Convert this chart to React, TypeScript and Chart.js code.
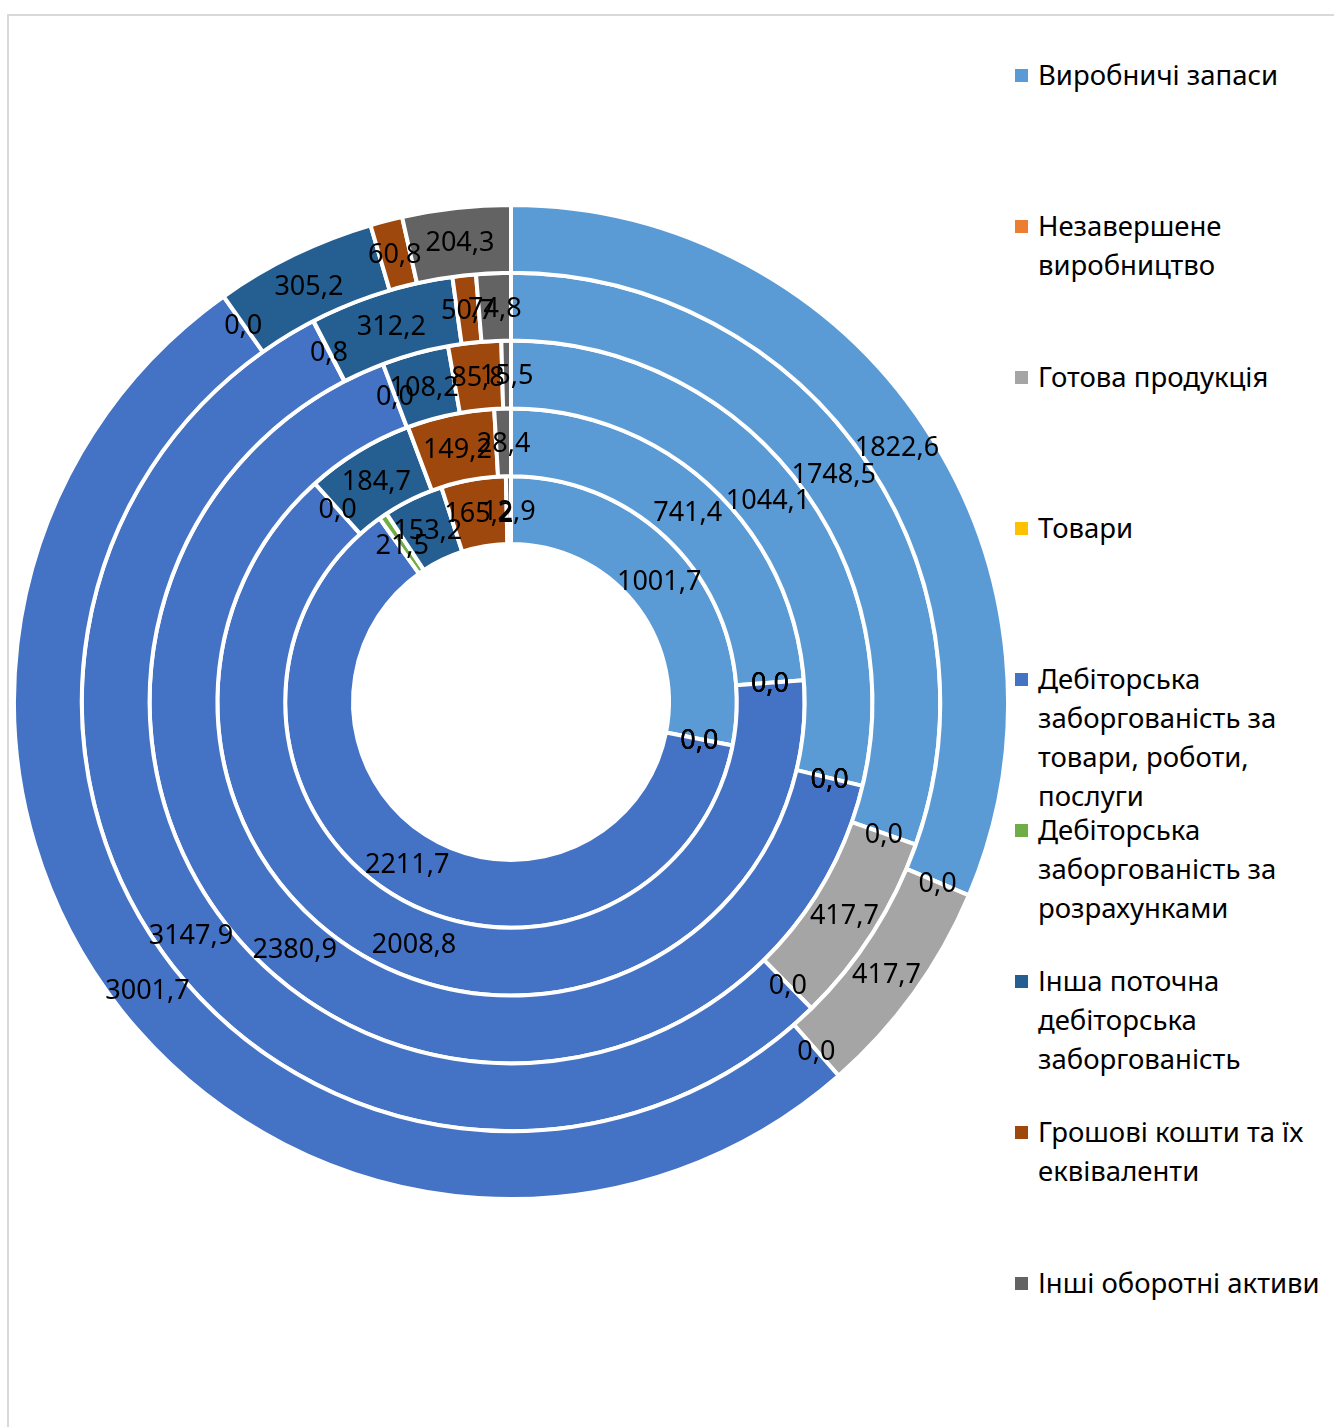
import React, { useEffect, useRef } from 'react';
import { Chart, registerables } from 'chart.js';

Chart.register(...registerables);

// Categories (legend order)
const categories = [
  'Виробничі запаси',
  'Незавершене\nвиробництво',
  'Готова продукція',
  'Товари',
  'Дебіторська\nзаборгованість за\nтовари, роботи,\nпослуги',
  'Дебіторська\nзаборгованість за\nрозрахунками',
  'Інша поточна\nдебіторська\nзаборгованість',
  'Грошові кошти та їх\nеквіваленти',
  'Інші оборотні активи',
];

const colors = ['#5B9BD5', '#ED7D31', '#A5A5A5', '#FFC000', '#4472C4', '#70AD47', '#255E91', '#9E480E', '#636363'];

// Rings from innermost (ring1) to outermost (ring5)
const ring1 = [1001.7, 0, 0, 0, 2211.7, 21.5, 153.2, 165.2, 12.9];
const ring2 = [741.4, 0, 0, 0, 2008.8, 0, 184.7, 149.2, 28.4];
const ring3 = [1044.1, 0, 0, 0, 2380.9, 0, 108.2, 85.8, 15.5];
const ring4 = [1748.5, 0, 417.7, 0, 3147.9, 0.8, 312.2, 50.7, 74.8];
const ring5 = [1822.6, 0, 417.7, 0, 3001.7, 0, 305.2, 60.8, 204.3];

const FONT = '"Noto Sans", "DejaVu Sans", sans-serif';

const labelPlugin = {
  id: 'ringLabels',
  afterDatasetsDraw(chart: any) {
    const ctx = chart.ctx;
    ctx.save();
    ctx.font = '27px ' + FONT;
    ctx.fillStyle = '#000';
    ctx.textAlign = 'center';
    ctx.textBaseline = 'middle';
    for (let di = chart.data.datasets.length - 1; di >= 0; di--) {
      const ds = chart.data.datasets[di];
      const meta = chart.getDatasetMeta(di);
      meta.data.forEach((arc: any, i: number) => {
        const p = arc.getProps(['x', 'y', 'startAngle', 'endAngle', 'innerRadius', 'outerRadius'], true);
        const a = (p.startAngle + p.endAngle) / 2;
        const r = (p.innerRadius + p.outerRadius) / 2;
        const v = ds.data[i] as number;
        ctx.fillText(v.toFixed(1).replace('.', ','), p.x + Math.cos(a) * r, p.y + Math.sin(a) * r + 2);
      });
    }
    ctx.restore();
  },
};

export default function App() {
  const canvasRef = useRef<HTMLCanvasElement | null>(null);

  useEffect(() => {
    if (!canvasRef.current) return;
    const rings = [ring5, ring4, ring3, ring2, ring1];
    const chart = new Chart(canvasRef.current, {
      type: 'doughnut',
      data: {
        labels: categories.map((c) => c.replace(/\n/g, ' ')),
        datasets: rings.map((r, i) => ({
          label: 'ring' + (5 - i),
          data: r,
          backgroundColor: colors,
          borderColor: '#ffffff',
          borderWidth: 4,
        })),
      },
      options: {
        responsive: false,
        animation: false,
        cutout: 158,
        layout: { padding: 0 },
        plugins: {
          legend: { display: false },
          tooltip: { enabled: false },
        },
      },
      plugins: [labelPlugin],
    });
    return () => chart.destroy();
  }, []);

  const legendTop = 55;
  const legendStep = 151;

  return (
    <div style={{ position: 'fixed', left: 0, top: 0, width: 1334, height: 1427, overflow: 'hidden', background: '#fff' }}>
      <div
        style={{
          position: 'absolute',
          left: 7,
          top: 14,
          width: 1500,
          height: 1600,
          borderLeft: '2px solid #d9d9d9',
          borderTop: '2px solid #d9d9d9',
        }}
      />
      <canvas
        ref={canvasRef}
        width={998}
        height={998}
        style={{ position: 'absolute', left: 12, top: 203, width: 998, height: 998 }}
      />
      {categories.map((c, i) => (
        <div key={i}>
          <div
            style={{
              position: 'absolute',
              left: 1015,
              top: legendTop + i * legendStep + 14,
              width: 13,
              height: 13,
              background: colors[i],
            }}
          />
          <div
            style={{
              position: 'absolute',
              left: 1038,
              top: legendTop + i * legendStep,
              fontFamily: FONT,
              fontSize: 27.5,
              lineHeight: '39px',
              color: '#000',
              whiteSpace: 'pre',
            }}
          >
            {c}
          </div>
        </div>
      ))}
    </div>
  );
}
